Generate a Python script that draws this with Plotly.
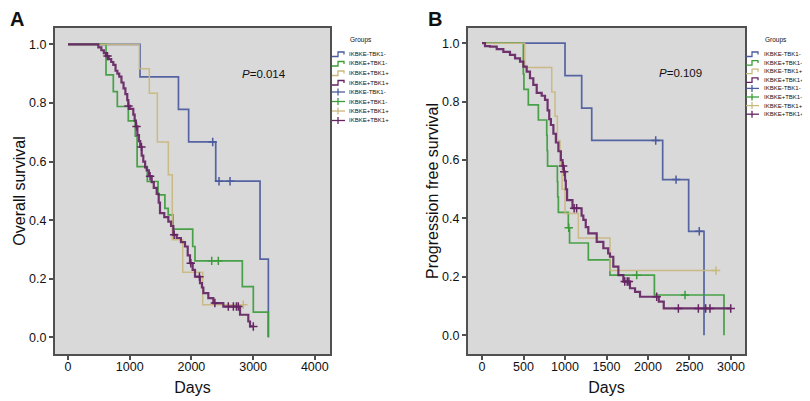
import numpy as np
import plotly.graph_objects as go

# ---------------- data ----------------
groups_A = ["IKBKE-TBK1-", "IKBKE+TBK1-", "IKBKE+TBK1+", "IKBKE+TBK1+"]
groups_B = ["IKBKE-TBK1-", "IKBKE+TBK1-", "IKBKE-TBK1+", "IKBKE+TBK1+"]
legend_title = "Groups"

# Panel A: overall survival (event days, survival after event, censor days)
A_blue_t = [1167, 1790, 1955, 2394, 3112, 3247]
A_blue_s = [0.889, 0.778, 0.667, 0.533, 0.267, 0.0]
A_blue_c = [2345, 2447, 2626]

A_green_t = [616, 734, 799, 977, 1090, 1120, 1285, 1459, 1570, 1624, 1700, 2021, 2058, 2825, 3003, 3246]
A_green_s = [0.896, 0.839, 0.788, 0.739, 0.687, 0.583, 0.532, 0.486, 0.44, 0.418, 0.369, 0.31, 0.261, 0.173, 0.086, 0.0]
A_green_c = [2329, 2436]

A_tan_t = [1156, 1318, 1448, 1626, 1690, 1859, 2183]
A_tan_s = [0.917, 0.833, 0.667, 0.555, 0.333, 0.222, 0.111]
A_tan_c = [2840]

A_purple_t = [491, 540, 580, 616, 660, 700, 734, 770, 800, 830, 866, 900, 930, 960, 977, 1000,
              1058, 1080, 1100, 1124, 1150, 1170, 1194, 1220, 1250, 1275, 1310, 1356, 1390, 1437,
              1470, 1491, 1560, 1626, 1670, 1707, 1761, 1830, 1896, 1940, 1977, 2020, 2058, 2139,
              2170, 2193, 2274, 2355, 2517, 2788, 2922, 2950]
A_purple_s = [0.99, 0.98, 0.97, 0.96, 0.95, 0.94, 0.93, 0.91, 0.90, 0.89, 0.87, 0.85, 0.83, 0.81, 0.79, 0.78,
              0.76, 0.74, 0.72, 0.69, 0.67, 0.65, 0.62, 0.60, 0.58, 0.57, 0.55, 0.53, 0.51, 0.49,
              0.46, 0.424, 0.41, 0.395, 0.38, 0.35, 0.339, 0.325, 0.31, 0.28, 0.253, 0.23, 0.207, 0.185,
              0.17, 0.151, 0.134, 0.117, 0.105, 0.077, 0.054, 0.037]
A_purple_c = [640, 980, 1110, 1190, 1330, 1720, 1990, 2130, 2380, 2598, 2680, 2730, 2760, 3003]

# Panel B: progression free survival
B_blue_t = [1000, 1201, 1322, 2177, 2490, 2675]
B_blue_s = [0.889, 0.778, 0.667, 0.533, 0.356, 0.0]
B_blue_c = [2093, 2338, 2618]

B_green_t = [498, 505, 558, 679, 780, 785, 790, 908, 912, 920, 1040, 1055, 1281, 1542, 2077, 2916]
B_green_s = [0.895, 0.842, 0.789, 0.737, 0.684, 0.632, 0.579, 0.526, 0.474, 0.421, 0.368, 0.316, 0.258, 0.206, 0.138, 0.0]
B_green_c = [1045, 1864, 2446]

B_tan_t = [515, 840, 880, 908, 940, 965, 1000, 1161, 1542]
B_tan_s = [0.917, 0.833, 0.75, 0.667, 0.583, 0.5, 0.417, 0.333, 0.222]
B_tan_c = [2820]

B_purple_t = [36, 96, 177, 257, 337, 398, 458, 498, 538, 578, 618, 659, 719, 759, 790, 810, 830, 860,
              890, 920, 950, 970, 985, 1000, 1010, 1025, 1090, 1200, 1221, 1250, 1281, 1382, 1462,
              1520, 1542, 1582, 1643, 1703, 1783, 1844, 1904, 2130, 2190]
B_purple_s = [0.99, 0.988, 0.98, 0.97, 0.96, 0.948, 0.937, 0.92, 0.903, 0.88, 0.857, 0.83, 0.82, 0.806,
              0.77, 0.74, 0.72, 0.69, 0.66, 0.63, 0.60, 0.58, 0.56, 0.53, 0.50, 0.463, 0.435, 0.41,
              0.395, 0.37, 0.349, 0.32, 0.298, 0.28, 0.269, 0.235, 0.206, 0.184, 0.161, 0.149, 0.132,
              0.115, 0.092]
B_purple_c = [977, 990, 1110, 1140, 1720, 1750, 1770, 2105, 2366, 2607, 2695, 2747, 2997]

p_A = "<i>P</i>=0.014"
p_B = "<i>P</i>=0.109"

# ---------------- styling / layout ----------------
COLORS = ["#4b5b9e", "#3c9c3c", "#c9b97f", "#652563"]
WIDTHS = [1.7, 1.7, 1.5, 2.2]
FONT = "Liberation Sans, Arial, sans-serif"

W, H, OFF = 802, 393, 8   # page body margin of 8px


def P(X, Y):
    """screen pixel -> paper fraction"""
    return (X - OFF) / W, 1 - (Y - OFF) / H


def step_xy(t, s, c):
    end = max([t[-1]] + list(c))
    if s[-1] == 0:
        end = t[-1]
    return [0] + list(t) + [end], [1.0] + list(s) + [s[-1]]


def censor_xy(t, s, c):
    t = np.asarray(t)
    xs, ys = [], []
    for ci in c:
        idx = np.searchsorted(t, ci, side="right") - 1
        yv = 1.0 if idx < 0 else s[idx]
        xs.append(ci)
        ys.append(yv)
    return xs, ys


fig = go.Figure()

panels = [
    ("x", "y",
     [(A_blue_t, A_blue_s, A_blue_c), (A_green_t, A_green_s, A_green_c),
      (A_tan_t, A_tan_s, A_tan_c), (A_purple_t, A_purple_s, A_purple_c)]),
    ("x2", "y2",
     [(B_blue_t, B_blue_s, B_blue_c), (B_green_t, B_green_s, B_green_c),
      (B_tan_t, B_tan_s, B_tan_c), (B_purple_t, B_purple_s, B_purple_c)]),
]

for xa, ya, series in panels:
    for i, (t, s, c) in enumerate(series):
        x, y = step_xy(t, s, c)
        fig.add_trace(go.Scatter(x=x, y=y, mode="lines", line=dict(color=COLORS[i], width=WIDTHS[i], shape="hv"),
                                 xaxis=xa, yaxis=ya, showlegend=False, opacity=0.92, hoverinfo="skip"))
    for i, (t, s, c) in enumerate(series):
        cx, cy = censor_xy(t, s, c)
        fig.add_trace(go.Scatter(x=cx, y=cy, mode="markers",
                                 marker=dict(symbol="cross-thin", size=6, line=dict(color=COLORS[i], width=1.5)),
                                 xaxis=xa, yaxis=ya, showlegend=False, hoverinfo="skip"))

axis_common = dict(showgrid=False, zeroline=False, showline=True, mirror=True, linecolor="#505050",
                   linewidth=2, ticks="outside", ticklen=4, tickcolor="#505050", tickwidth=1.5,
                   tickfont=dict(family=FONT, size=12.5, color="#111"),
                   title_font=dict(family=FONT, size=16, color="#111"))

xA0, yB = P(55, 354)
xA1, yT = P(330, 28)
xB0, _ = P(468, 354)
xB1, _ = P(745, 28)
ydom = [yB, yT]

fig.update_layout(
    width=W, height=H,
    margin=dict(l=0, r=0, t=0, b=0),
    paper_bgcolor="white", plot_bgcolor="#d9d9d9",
    font=dict(family=FONT, color="#111"),
    showlegend=False,
    xaxis=dict(domain=[xA0, xA1], range=[-211, 4246], tickvals=[0, 1000, 2000, 3000, 4000],
               ticklabelstandoff=-4, title=dict(text="Days", standoff=9), anchor="y", **axis_common),
    yaxis=dict(domain=ydom, range=[-0.057, 1.056], tickvals=[0, 0.2, 0.4, 0.6, 0.8, 1.0], tickformat=".1f",
               title=dict(text="Overall survival", standoff=0), anchor="x", **axis_common),
    xaxis2=dict(domain=[xB0, xB1], range=[-169, 3169], tickvals=[0, 500, 1000, 1500, 2000, 2500, 3000],
                ticklabelstandoff=-4, title=dict(text="Days", standoff=9), anchor="y2", **axis_common),
    yaxis2=dict(domain=ydom, range=[-0.064, 1.052], tickvals=[0, 0.2, 0.4, 0.6, 0.8, 1.0], tickformat=".1f",
                title=dict(text="Progression free survival", standoff=0), anchor="x2", **axis_common),
)

fig.add_annotation(x=3177, y=0.898, xref="x", yref="y", text=p_A, showarrow=False,
                   font=dict(family=FONT, size=11.5, color="#111"))
fig.add_annotation(x=2394, y=0.899, xref="x2", yref="y2", text=p_B, showarrow=False,
                   font=dict(family=FONT, size=11.5, color="#111"))

ax, ay = P(8, 6)
fig.add_annotation(x=ax, y=ay, xref="paper", yref="paper", text="<b>A</b>", showarrow=False,
                   xanchor="left", yanchor="top", font=dict(family=FONT, size=20, color="#111"))
bx, by = P(426, 6)
fig.add_annotation(x=bx, y=by, xref="paper", yref="paper", text="<b>B</b>", showarrow=False,
                   xanchor="left", yanchor="top", font=dict(family=FONT, size=20, color="#111"))

# ---------------- legends (drawn as small keys beside each panel) ----------------
legend_specs = [
    (groups_A, 332, 346.5, 54.0, 9.5),   # symbol x, text x, first row y, row step
    (groups_B, 746, 762.0, 54.0, 8.6),
]
for names, sx, tx, y0, dy in legend_specs:
    gx, gy = P(tx + 1, 40)
    fig.add_annotation(x=gx, y=gy, xref="paper", yref="paper", text=legend_title, showarrow=False,
                       xanchor="left", yanchor="middle", font=dict(family=FONT, size=6.5, color="#111"))
    labels = names + names
    for k, name in enumerate(labels):
        col = COLORS[k % 4]
        yy = y0 + dy * k
        tx_, ty_ = P(tx, yy)
        fig.add_annotation(x=tx_, y=ty_, xref="paper", yref="paper", text=name, showarrow=False,
                           xanchor="left", yanchor="middle", font=dict(family=FONT, size=6, color="#111"))
        if k < 4:
            pts = [P(sx, yy + 2.5), P(sx + 6, yy + 2.5), P(sx + 6, yy - 2), P(sx + 12, yy - 2), P(sx + 12, yy + 0.5)]
            path = "M " + " L ".join(f"{a:.5f},{b:.5f}" for a, b in pts)
            fig.add_shape(type="path", path=path, xref="paper", yref="paper",
                          line=dict(color=col, width=1.3))
        else:
            a0, b0 = P(sx, yy)
            a1, _ = P(sx + 13, yy)
            fig.add_shape(type="line", x0=a0, x1=a1, y0=b0, y1=b0, xref="paper", yref="paper",
                          line=dict(color=col, width=1.3))
            c0, d0 = P(sx + 6, yy - 3.5)
            _, d1 = P(sx + 6, yy + 3.5)
            fig.add_shape(type="line", x0=c0, x1=c0, y0=d0, y1=d1, xref="paper", yref="paper",
                          line=dict(color=col, width=1.3))

fig.write_html("out.html")
